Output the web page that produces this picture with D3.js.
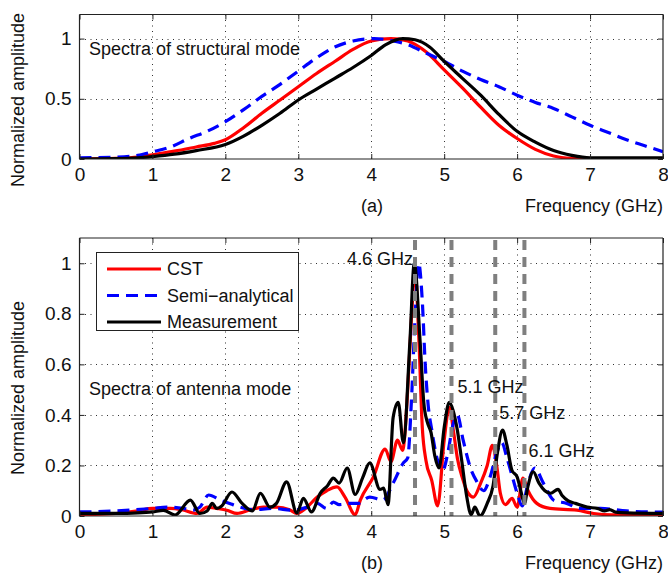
<!DOCTYPE html>
<html><head><meta charset="utf-8">
<script src="https://cdn.jsdelivr.net/npm/d3@7"></script>
<style>
html,body{margin:0;padding:0;background:#fff;}
svg{display:block;font-family:"Liberation Sans",Arial,sans-serif;}
</style></head>
<body>
<svg id="chart" width="668" height="578"></svg>
<script>
// ---------- data ----------
const xTicks = [0,1,2,3,4,5,6,7,8];
const yTicksTop = [0,0.5,1];
const yTicksBottom = [0,0.2,0.4,0.6,0.8,1];
const seriesNames = ["CST","Semi\u2212analytical","Measurement"];
const markerFreqs = [4.6,5.1,5.7,6.1];
const markerLabels = ["4.6 GHz","5.1 GHz","5.7 GHz","6.1 GHz"];

// (a) structural mode spectra [frequency GHz, amplitude]
const topCST = [[0,0],[0.5,0.005],[0.8,0.015],[1.0,0.035],[1.3,0.065],[1.6,0.1],[1.85,0.13],[2.0,0.16],[2.25,0.26],[2.5,0.38],[2.75,0.49],[3.0,0.6],[3.25,0.71],[3.5,0.81],[3.75,0.91],[4.0,0.98],[4.27,1.0],[4.5,0.98],[4.75,0.89],[5.0,0.74],[5.25,0.59],[5.5,0.43],[5.75,0.28],[6.0,0.17],[6.25,0.08],[6.5,0.025],[6.75,0.005],[7,0],[8,0]];
const topSemi = [[0,0.01],[0.5,0.015],[0.8,0.03],[1.0,0.06],[1.25,0.1],[1.5,0.17],[1.75,0.23],[2.0,0.31],[2.25,0.41],[2.5,0.52],[2.75,0.62],[3.0,0.73],[3.25,0.84],[3.5,0.93],[3.75,0.98],[4.04,1.0],[4.3,0.98],[4.5,0.95],[4.75,0.88],[5.0,0.81],[5.25,0.73],[5.5,0.66],[5.75,0.6],[6.0,0.53],[6.25,0.47],[6.5,0.42],[6.75,0.35],[7.0,0.28],[7.25,0.22],[7.5,0.16],[7.75,0.11],[8,0.06]];
const topMeas = [[0,0],[0.5,0.003],[0.8,0.01],[1.0,0.02],[1.3,0.04],[1.6,0.07],[2.0,0.12],[2.25,0.19],[2.5,0.28],[2.75,0.38],[3.0,0.49],[3.25,0.58],[3.5,0.67],[3.75,0.76],[4.0,0.86],[4.2,0.95],[4.43,1.0],[4.6,0.99],[4.8,0.93],[5.0,0.81],[5.25,0.67],[5.5,0.53],[5.75,0.37],[6.0,0.23],[6.25,0.14],[6.5,0.07],[6.75,0.03],[7.0,0.01],[7.5,0.01],[8,0.01]];

// (b) antenna mode spectra
const botCST = [[0,0.005],[0.5,0.01],[0.8,0.02],[1.0,0.03],[1.24,0.03],[1.4,0.025],[1.61,0.01],[1.75,0.035],[1.88,0.03],[2.02,0.023],[2.16,0.01],[2.35,0.025],[2.52,0.035],[2.7,0.035],[2.88,0.025],[2.98,0.01],[3.1,0.03],[3.26,0.075],[3.39,0.1],[3.53,0.115],[3.64,0.075],[3.78,0.005],[3.85,0.063],[4.03,0.155],[4.19,0.265],[4.27,0.215],[4.36,0.3],[4.43,0.26],[4.5,0.5],[4.55,0.78],[4.6,0.97],[4.65,0.72],[4.7,0.35],[4.75,0.22],[4.83,0.14],[4.91,0.04],[5.0,0.3],[5.07,0.43],[5.13,0.33],[5.18,0.23],[5.25,0.15],[5.33,0.09],[5.4,0.075],[5.5,0.13],[5.59,0.2],[5.66,0.28],[5.72,0.2],[5.77,0.09],[5.84,0.045],[5.93,0.07],[6.0,0.035],[6.08,0.15],[6.15,0.1],[6.27,0.05],[6.45,0.03],[6.82,0.023],[7.05,0.01],[7.3,0.005],[8,0.005]];
const botSemi = [[0,0.016],[0.5,0.02],[1.0,0.03],[1.2,0.035],[1.42,0.03],[1.56,0.023],[1.65,0.035],[1.77,0.083],[1.93,0.063],[2.1,0.045],[2.2,0.035],[2.38,0.025],[2.65,0.03],[2.93,0.023],[3.12,0.035],[3.26,0.05],[3.39,0.03],[3.48,0.055],[3.56,0.045],[3.71,0.05],[3.82,0.05],[3.98,0.075],[4.16,0.063],[4.3,0.13],[4.44,0.21],[4.5,0.23],[4.55,0.45],[4.6,0.78],[4.65,1.0],[4.7,0.85],[4.74,0.6],[4.78,0.44],[4.83,0.34],[4.9,0.23],[4.98,0.18],[5.05,0.25],[5.12,0.36],[5.18,0.4],[5.26,0.3],[5.36,0.19],[5.45,0.135],[5.54,0.1],[5.63,0.155],[5.72,0.25],[5.79,0.29],[5.86,0.23],[5.93,0.16],[6.0,0.09],[6.07,0.04],[6.15,0.13],[6.24,0.19],[6.36,0.13],[6.5,0.063],[6.68,0.05],[6.86,0.03],[7.14,0.03],[7.5,0.02],[8,0.015]];
const botMeas = [[0,0.01],[0.5,0.01],[0.8,0.012],[1.0,0.016],[1.15,0.022],[1.31,0.004],[1.52,0.063],[1.65,0.01],[1.75,0.02],[1.82,0.05],[1.88,0.03],[1.95,0.04],[2.09,0.095],[2.23,0.05],[2.37,0.02],[2.48,0.09],[2.61,0.035],[2.7,0.05],[2.84,0.135],[2.98,0.012],[3.07,0.07],[3.18,0.016],[3.3,0.09],[3.4,0.12],[3.48,0.15],[3.56,0.13],[3.67,0.19],[3.78,0.085],[3.88,0.15],[3.98,0.21],[4.12,0.105],[4.17,0.11],[4.23,0.045],[4.3,0.39],[4.37,0.45],[4.44,0.29],[4.53,0.69],[4.59,1.0],[4.67,0.69],[4.72,0.45],[4.77,0.37],[4.82,0.33],[4.87,0.24],[4.93,0.19],[5.0,0.35],[5.07,0.45],[5.12,0.42],[5.18,0.34],[5.24,0.22],[5.31,0.075],[5.37,0.005],[5.42,0.035],[5.49,0],[5.59,0.05],[5.67,0.12],[5.73,0.25],[5.8,0.34],[5.86,0.28],[5.93,0.18],[6.0,0.155],[6.05,0.1],[6.1,0.05],[6.15,0.12],[6.22,0.175],[6.3,0.13],[6.38,0.1],[6.46,0.09],[6.56,0.105],[6.62,0.08],[6.7,0.06],[6.8,0.05],[6.96,0.035],[7.1,0.03],[7.2,0.02],[7.27,0.025],[7.35,0.015],[7.5,0.012],[8,0.01]];

// ---------- drawing ----------
const svg = d3.select("#chart");
const FONT = 18;
const TICKFONT = 19;
const colors = {cst:"#ff0000", semi:"#0000ff", meas:"#000000"};

function panel(opt){
  const g = svg.append("g");
  const x = d3.scaleLinear().domain([0,8]).range([opt.left,opt.right]);
  const y = d3.scaleLinear().domain([0,opt.ymax]).range([opt.bottom,opt.top]);
  const id = "clip"+opt.name;
  svg.append("clipPath").attr("id",id).append("rect")
    .attr("x",opt.left).attr("y",opt.top).attr("width",opt.right-opt.left).attr("height",opt.bottom-opt.top);

  // grid
  const grid = g.append("g").attr("stroke","#333").attr("stroke-width",1).attr("stroke-dasharray","1,4.5");
  xTicks.slice(1,-1).forEach(t=>{
    grid.append("line").attr("x1",Math.round(x(t))+0.5).attr("x2",Math.round(x(t))+0.5).attr("y1",opt.top).attr("y2",opt.bottom);
  });
  opt.yTicks.filter(t=>t>0).forEach(t=>{
    grid.append("line").attr("x1",opt.left).attr("x2",opt.right).attr("y1",Math.round(y(t))+0.5).attr("y2",Math.round(y(t))+0.5);
  });

  // curves
  const line = d3.line().x(d=>x(d[0])).y(d=>y(Math.max(0,d[1]))).curve(d3.curveMonotoneX);
  const cg = g.append("g").attr("clip-path",`url(#${id})`).attr("fill","none").attr("stroke-linejoin","round");
  cg.append("path").datum(opt.cst).attr("d",line).attr("stroke",colors.cst).attr("stroke-width",3.2);
  cg.append("path").datum(opt.semi).attr("d",line).attr("stroke",colors.semi).attr("stroke-width",3.2).attr("stroke-dasharray","12,7");
  cg.append("path").datum(opt.meas).attr("d",line).attr("stroke",colors.meas).attr("stroke-width",3.2);

  if(opt.markers){
    markerFreqs.forEach(f=>{
      g.append("line").attr("x1",x(f)).attr("x2",x(f)).attr("y1",opt.top+2).attr("y2",opt.bottom)
        .attr("stroke","#7f7f7f").attr("stroke-width",4).attr("stroke-dasharray","10,7");
    });
  }

  // axes (MATLAB style box, inward ticks)
  const axB = d3.axisBottom(x).tickValues(xTicks).tickSize(-5).tickPadding(9).tickFormat(d3.format("d"));
  const axT = d3.axisTop(x).tickValues(xTicks).tickSize(-5).tickFormat("");
  const axL = d3.axisLeft(y).tickValues(opt.yTicks).tickSize(-5).tickPadding(8).tickFormat(d=>d3.format("~g")(d));
  const axR = d3.axisRight(y).tickValues(opt.yTicks).tickSize(-5).tickFormat("");
  const style = s=>{ s.selectAll("path").attr("stroke","#222").attr("stroke-width",1.2);
    s.selectAll("line").attr("stroke","#222");
    s.selectAll("text").attr("font-size",TICKFONT).attr("fill","#111").attr("font-family","Liberation Sans, Arial, sans-serif"); };
  g.append("g").attr("transform",`translate(0,${opt.bottom})`).call(axB).call(style).selectAll("path").attr("d",`M${opt.left},0H${opt.right}`);
  g.append("g").attr("transform",`translate(0,${opt.top})`).call(axT).call(style).selectAll("path").attr("d",`M${opt.left},0H${opt.right}`);
  g.append("g").attr("transform",`translate(${opt.left},0)`).call(axL).call(style).selectAll("path").attr("d",`M0,${opt.top}V${opt.bottom}`);
  g.append("g").attr("transform",`translate(${opt.right},0)`).call(axR).call(style).selectAll("path").attr("d",`M0,${opt.top}V${opt.bottom}`);

  // labels
  g.append("text").attr("transform",`translate(24,${opt.ylabelY}) rotate(-90)`).attr("text-anchor","middle")
    .attr("font-size",FONT).attr("fill","#111").text("Normalized amplitude");
  g.append("text").attr("x",372).attr("y",opt.bottom+53).attr("text-anchor","middle").attr("font-size",FONT).attr("fill","#111").text(opt.tag);
  g.append("text").attr("x",opt.right).attr("y",opt.bottom+53).attr("text-anchor","end").attr("font-size",FONT).attr("fill","#111").text("Frequency (GHz)");
  g.append("text").attr("x",89).attr("y",opt.titleY).attr("font-size",FONT).attr("fill","#111").text(opt.title);
  return {g,x,y};
}

panel({name:"a",left:79.5,right:663,top:14.5,bottom:159,ymax:1.2,yTicks:yTicksTop,
  cst:topCST,semi:topSemi,meas:topMeas,tag:"(a)",title:"Spectra of structural mode",titleY:55,ylabelY:100});

const pb = panel({name:"b",left:79.5,right:663,top:238,bottom:516,ymax:1.1,yTicks:yTicksBottom,
  cst:botCST,semi:botSemi,meas:botMeas,tag:"(b)",title:"Spectra of antenna mode",titleY:395,ylabelY:388,markers:true});

// marker labels
const labelPos = [{f:4.6,a:0.995,dx:-2,anchor:"end"},{f:5.1,a:0.485,dx:6,anchor:"start"},{f:5.7,a:0.385,dx:4,anchor:"start"},{f:6.1,a:0.235,dx:4,anchor:"start"}];
markerLabels.forEach((t,i)=>{
  const p = labelPos[i];
  pb.g.append("text").attr("x",pb.x(p.f)+p.dx).attr("y",pb.y(p.a)).attr("text-anchor",p.anchor)
    .attr("font-size",FONT).attr("fill","#111").text(t);
});

// legend
const lg = pb.g.append("g");
lg.append("rect").attr("x",96.5).attr("y",252.5).attr("width",202).attr("height",78).attr("fill","#fff").attr("stroke","#222").attr("stroke-width",1);
const legStyles = [{c:colors.cst,d:null},{c:colors.semi,d:"12,7"},{c:colors.meas,d:null}];
seriesNames.forEach((n,i)=>{
  const yy = 269 + i*26.5;
  lg.append("line").attr("x1",107).attr("x2",161).attr("y1",yy).attr("y2",yy).attr("stroke",legStyles[i].c).attr("stroke-width",3.2)
    .attr("stroke-dasharray",legStyles[i].d);
  lg.append("text").attr("x",167).attr("y",yy+6).attr("font-size",FONT).attr("fill","#111").text(n);
});
</script>
</body></html>
